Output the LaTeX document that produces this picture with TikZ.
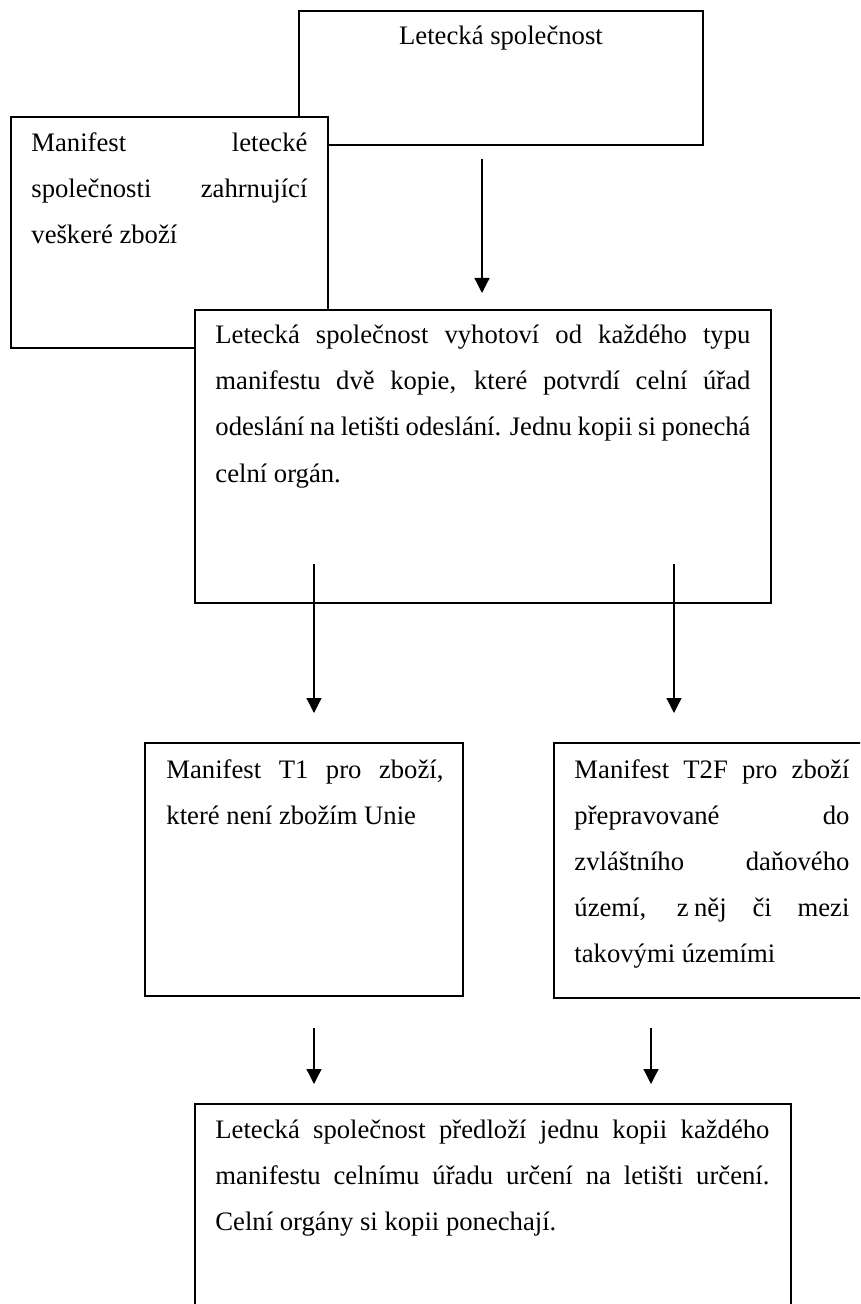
\documentclass[tikz,border=0pt]{standalone}
\usepackage{fontspec}
\setmainfont{Liberation Serif}
\usetikzlibrary{arrows.meta,fit}
\begin{document}
\begin{tikzpicture}[x=0.45pt,y=-0.45pt,
  box/.style={draw, fill=white, line width=0.7pt, inner sep=0pt},
  txt/.style={anchor=base west, inner sep=0pt, align=justify, font=\fontsize{12pt}{20.7pt}\selectfont},
  arr/.style={line width=0.55pt, -{Triangle[length=6.75pt,width=6.75pt]}}]
\useasboundingbox (0,0) rectangle (860,1304);
\begin{scope}
\clip (0,0) rectangle (860,1304);
\node[box, fit={(299,11) (703,145)}] (A) {};
\node[box, fit={(11,117) (328,348)}] (B) {};
\node[box, fit={(195,310) (771,603)}] (C) {};
\node[box, fit={(145,743) (463,996)}] (D) {};
\node[box, fit={(554,743) (1000,998)}] (E) {};
\node[box, fit={(195,1104) (791,1400)}] (F) {};
\end{scope}

\node[anchor=base, inner sep=0pt, font=\fontsize{12pt}{20.7pt}\selectfont] (tA) at (501,45) {Letecká společnost};
\node[txt, text width=124.2pt] (tB) at (31,152) {Manifest letecké\linebreak společnosti zahrnující\linebreak veškeré zboží};
\node[txt, text width=240.75pt] (tC) at (215,344) {Letecká společnost vyhotoví od každého typu\linebreak manifestu dvě kopie, které potvrdí celní úřad\linebreak odeslání na letišti odeslání. Jednu kopii si ponechá\linebreak celní orgán.};
\node[txt, text width=124.65pt] (tD) at (166,778) {Manifest T1 pro zboží,\linebreak které není zbožím Unie};
\node[txt, text width=123.75pt] (tE) at (574,778) {Manifest T2F pro zboží\linebreak přepravované do\linebreak zvláštního daňového\linebreak území, z\nobreak\hspace{0.2em}něj či mezi\linebreak takovými územími};
\node[txt, text width=249.3pt] (tF) at (215,1138) {Letecká společnost předloží jednu kopii každého\linebreak manifestu celnímu úřadu určení na letišti určení.\linebreak Celní orgány si kopii ponechají.};

\coordinate (a1s) at (482,159); \coordinate (a1e) at (482,293);
\coordinate (a2s) at (314,564); \coordinate (a2e) at (314,713);
\coordinate (a3s) at (674,564); \coordinate (a3e) at (674,713);
\coordinate (a4s) at (314,1028); \coordinate (a4e) at (314,1084);
\coordinate (a5s) at (651,1028); \coordinate (a5e) at (651,1084);
\draw[arr] (a1s) -- (a1e);
\draw[arr] (a2s) -- (a2e);
\draw[arr] (a3s) -- (a3e);
\draw[arr] (a4s) -- (a4e);
\draw[arr] (a5s) -- (a5e);
\end{tikzpicture}
\end{document}
